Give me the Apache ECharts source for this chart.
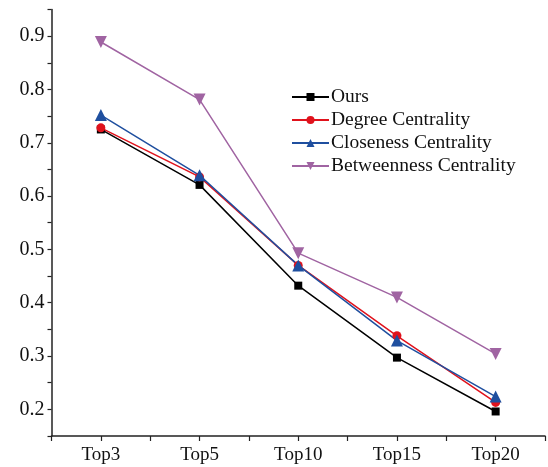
<!DOCTYPE html>
<html>
<head>
<meta charset="utf-8">
<script src="https://cdn.jsdelivr.net/npm/echarts@6/dist/echarts.min.js"></script>
<style>
  html, body { margin: 0; padding: 0; background: #fff; }
  #chart { width: 548px; height: 467px; }
</style>
</head>
<body>
<div id="chart"></div>
<script>
// Top-k categories along the x axis
const categories = ['Top3', 'Top5', 'Top10', 'Top15', 'Top20'];

// Values per method
const ours        = [0.725, 0.621, 0.432, 0.297, 0.196];
const degree      = [0.728, 0.636, 0.470, 0.338, 0.213];
const closeness   = [0.752, 0.639, 0.470, 0.329, 0.224];
const betweenness = [0.889, 0.781, 0.493, 0.410, 0.304];

// Y tick labels shown every 0.1
const yTickLabels = ['0.2', '0.3', '0.4', '0.5', '0.6', '0.7', '0.8', '0.9'];

const serif = '"Liberation Serif", "Times New Roman", serif';

// category i sits at x = i + 1 on a 0.5..5.5 scale so ticks fall on and between categories
const toPoints = arr => arr.map((v, i) => [i + 1, v]);

function makeSeries(name, data, color, symbol, size, rotate) {
  return {
    name: name,
    type: 'line',
    data: toPoints(data),
    symbol: symbol,
    symbolSize: size,
    symbolRotate: rotate || 0,
    lineStyle: { color: color, width: 1.5 },
    itemStyle: { color: color },
    z: 2
  };
}

const chart = echarts.init(document.getElementById('chart'));
chart.setOption({
  animation: false,
  backgroundColor: '#fff',
  grid: { left: 51.5, right: 1.5, top: 9.5, bottom: 31, containLabel: false },
  legend: {
    orient: 'vertical',
    left: 291,
    top: 87,
    padding: 0,
    itemWidth: 37,
    itemHeight: 10,
    itemGap: 3,
    textStyle: { fontFamily: serif, fontSize: 19.5, lineHeight: 19.5, color: '#111', padding: [0, 0, 0, -3] },
    data: ['Ours', 'Degree Centrality', 'Closeness Centrality', 'Betweenness Centrality']
  },
  xAxis: {
    type: 'value',
    min: 0.5,
    max: 5.5,
    interval: 0.5,
    splitLine: { show: false },
    axisLine: { show: true, lineStyle: { color: '#222', width: 1.5 } },
    axisTick: { show: true, length: 5, inside: false, lineStyle: { color: '#222', width: 1.2 } },
    axisLabel: {
      margin: 10,
      fontFamily: serif,
      fontSize: 19,
      color: '#111',
      formatter: v => {
        const k = Math.round(v * 2);
        return k % 2 === 0 ? categories[k / 2 - 1] || '' : '';
      }
    }
  },
  yAxis: {
    type: 'value',
    min: 0.15,
    max: 0.95,
    interval: 0.05,
    splitLine: { show: false },
    axisLine: { show: true, lineStyle: { color: '#222', width: 1.5 } },
    axisTick: { show: true, length: 4, inside: false, lineStyle: { color: '#222', width: 1.2 } },
    axisLabel: {
      margin: 7,
      fontFamily: serif,
      fontSize: 20,
      color: '#111',
      formatter: v => {
        const k = Math.round(v * 100);
        if (k % 10 !== 0) return '';
        const idx = k / 10 - 2;
        return yTickLabels[idx] || '';
      }
    }
  },
  series: [
    makeSeries('Ours', ours, '#000000', 'rect', 8),
    makeSeries('Degree Centrality', degree, '#e0121c', 'circle', 9),
    makeSeries('Closeness Centrality', closeness, '#1f4f9f', 'triangle', 12),
    makeSeries('Betweenness Centrality', betweenness, '#a064a2', 'triangle', 12, 180)
  ]
});
</script>
</body>
</html>
